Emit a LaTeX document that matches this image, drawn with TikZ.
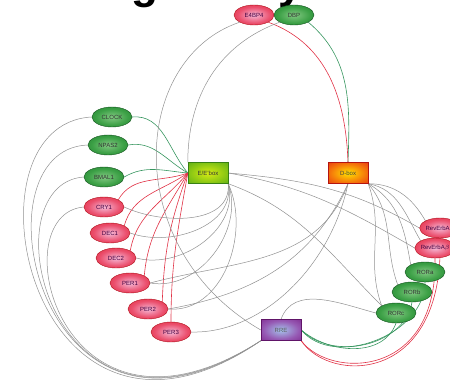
\documentclass[tikz,border=0pt]{standalone}
\usepackage{fontspec}
\setsansfont{Liberation Sans}
\usetikzlibrary{shapes.geometric}
\definecolor{gout}{RGB}{25,120,40}
\definecolor{gmid}{RGB}{60,160,70}
\definecolor{gin}{RGB}{130,200,130}
\definecolor{rout}{RGB}{220,20,35}
\definecolor{rmid}{RGB}{235,80,110}
\definecolor{rin}{RGB}{245,185,215}
\definecolor{eout}{RGB}{70,160,25}
\definecolor{emid}{RGB}{140,200,20}
\definecolor{ein}{RGB}{215,235,20}
\definecolor{dout}{RGB}{225,25,20}
\definecolor{dmid}{RGB}{245,120,10}
\definecolor{din}{RGB}{255,225,0}
\definecolor{rreout}{RGB}{120,25,130}
\definecolor{rremid}{RGB}{150,90,180}
\definecolor{rrein}{RGB}{165,195,235}
\definecolor{lgray}{RGB}{145,145,145}
\definecolor{actline}{RGB}{55,150,95}
\definecolor{repline}{RGB}{225,50,70}
\pgfdeclareradialshading{greenball}{\pgfpoint{0bp}{0bp}}{color(0bp)=(gin); color(20bp)=(gmid); color(42bp)=(gout); color(50bp)=(gout)}
\pgfdeclareradialshading{redball}{\pgfpoint{0bp}{0bp}}{color(0bp)=(rin); color(20bp)=(rmid); color(42bp)=(rout); color(50bp)=(rout)}
\pgfdeclareradialshading{eglow}{\pgfpoint{0bp}{0bp}}{color(0bp)=(ein); color(22bp)=(emid); color(45bp)=(eout); color(50bp)=(eout)}
\pgfdeclareradialshading{dglow}{\pgfpoint{0bp}{0bp}}{color(0bp)=(din); color(22bp)=(dmid); color(45bp)=(dout); color(50bp)=(dout)}
\pgfdeclareradialshading{rreglow}{\pgfpoint{0bp}{0bp}}{color(0bp)=(rrein); color(22bp)=(rremid); color(45bp)=(rreout); color(50bp)=(rreout)}
\pgfdeclarelayer{bg}
\pgfsetlayers{bg,main}

\begin{document}
\begin{tikzpicture}[x=1pt,y=1pt]
	\tikzstyle{gene} = [ellipse, minimum width=40pt, minimum height=20pt, inner sep=0pt, font=\fontsize{6}{7}\selectfont\sffamily]
	\tikzstyle{actgene} = [gene, draw=gout!70!black, shading=greenball, text=black!80]
	\tikzstyle{repgene} = [gene, draw=rout!80!black, shading=redball, text=violet!50!black]
	\tikzstyle{element} = [rectangle, minimum width=40pt, minimum height=21pt, inner sep=0pt, font=\fontsize{6}{7}\selectfont\sffamily]
	\tikzstyle{titletext} = [anchor=base, inner sep=0pt, font=\fontsize{44}{44}\selectfont\bfseries\sffamily]
	\tikzstyle{reg} = [draw=lgray, line width=0.5pt]
	\tikzstyle{act} = [draw=actline, line width=0.6pt]
	\tikzstyle{rep} = [draw=repline, line width=0.6pt]
	\useasboundingbox (0,0) rectangle (450,389);
		\node[titletext] (titleg) at (145,390) {g};
		\node[titletext] (titley) at (291,390) {y};
		\node[repgene] (e4bp4) at (254,374) {E4BP4};
		\node[actgene] (dbp) at (294,374) {DBP};
		\node[actgene] (clock) at (112,272) {CLOCK};
		\node[actgene] (npas2) at (108,244) {NPAS2};
		\node[actgene] (bmal1) at (104,212) {BMAL1};
		\node[repgene] (cry1) at (104,182) {CRY1};
		\node[repgene] (dec1) at (110,156) {DEC1};
		\node[repgene] (dec2) at (116,131) {DEC2};
		\node[repgene] (per1) at (130,106) {PER1};
		\node[repgene] (per2) at (148,80) {PER2};
		\node[repgene] (per3) at (171,57) {PER3};
		\node[element, draw=eout!80!black, shading=eglow, text=black!80] (ebox) at (208,216) {E/E'box};
		\node[element, draw=dout!80!black, shading=dglow, text=black!75] (dbox) at (348,216) {D-box};
		\node[element, draw=rreout!80!black, shading=rreglow, text=black!65] (rre) at (281,59) {RRE};
		\node[repgene] (reva) at (440,161) {RevErbA$\alpha$};
		\node[repgene] (revb) at (435,141) {RevErbA$\beta$};
		\node[actgene] (rora) at (425,117) {RORa};
		\node[actgene] (rorb) at (412,97) {RORb};
		\node[actgene] (rorc) at (396,76) {RORc};
	\begin{pgfonlayer}{bg}
	\draw[act] (clock.east) to[out=5,in=130] (ebox.west);
	\draw[act] (npas2.east) to[out=10,in=150] (ebox.west);
	\draw[act] (bmal1.east) to[out=30,in=175] (ebox.west);
	\draw[act] (dbp.south east) to[out=-40,in=88] (dbox.north);
	\draw[act] (rora.south) to[out=-90,in=-50] (rre.east);
	\draw[act] (rorb.south) to[out=-100,in=-45] (rre.east);
	\draw[act] (rorc.south) to[out=-110,in=-40] (rre.east);
	\draw[rep] (e4bp4.south east) to[out=-20,in=92] (dbox.north);
	\draw[rep] (cry1.north east) to[out=60,in=200] (ebox.west);
	\draw[rep] (dec1.north east) to[out=75,in=215] (ebox.west);
	\draw[rep] (dec2.north east) to[out=80,in=230] (ebox.west);
	\draw[rep] (per1.north east) to[out=85,in=240] (ebox.west);
	\draw[rep] (per2.north east) to[out=88,in=250] (ebox.west);
	\draw[rep] (per3.north) to[out=90,in=260] (ebox.west);
	\draw[rep] (reva.south) .. controls (445,5) and (330,5) .. (rre.south east);
	\draw[rep] (revb.south) .. controls (438,10) and (330,10) .. (rre.south east);
	\draw[reg] (ebox.north west) to[out=90,in=200] (dbp.south west);
	\draw[reg] (rre.west) .. controls (120,140) and (130,330) .. (e4bp4.south west);
	\draw[reg] (ebox.south east) to[out=-85,in=-25] (cry1.east);
	\draw[reg] (ebox.south east) to[out=-80,in=-20] (dec1.east);
	\draw[reg] (ebox.south east) to[out=-75,in=-15] (dec2.east);
	\draw[reg] (ebox.south east) to[out=-70,in=-10] (per1.east);
	\draw[reg] (ebox.south east) to[out=-65,in=-5] (per2.east);
	\draw[reg] (ebox.east) to[out=-5,in=150] (reva.west);
	\draw[reg] (ebox.east) to[out=-10,in=150] (revb.west);
	\draw[reg] (ebox.south east) to[out=-20,in=135] (rorc.north west);
	\draw[reg] (dbox.south east) to[out=0,in=120] (reva.north west);
	\draw[reg] (dbox.south east) to[out=-10,in=120] (revb.north west);
	\draw[reg] (dbox.south east) to[out=-30,in=100] (rora.north west);
	\draw[reg] (dbox.south east) to[out=-50,in=110] (rorb.north west);
	\draw[reg] (dbox.south east) to[out=-70,in=110] (rorc.north west);
	\draw[reg] (dbox.south) to[out=-110,in=15] (per1.east);
	\draw[reg] (dbox.south) to[out=-115,in=10] (per2.east);
	\draw[reg] (dbox.south) .. controls (330,120) and (260,55) .. (per3.east);
	\draw[reg] (rre.south west) .. controls (30,-110) and (-45,265) .. (clock.west);
	\draw[reg] (rre.south west) .. controls (40,-100) and (-30,240) .. (npas2.west);
	\draw[reg] (rre.south west) .. controls (50,-90) and (-15,205) .. (bmal1.west);
	\draw[reg] (rre.south west) .. controls (60,-80) and (0,175) .. (cry1.west);
	\draw[reg] (rre.north) to[out=70,in=165] (rorc.west);
	\end{pgfonlayer}
	\end{tikzpicture}
\end{document}
